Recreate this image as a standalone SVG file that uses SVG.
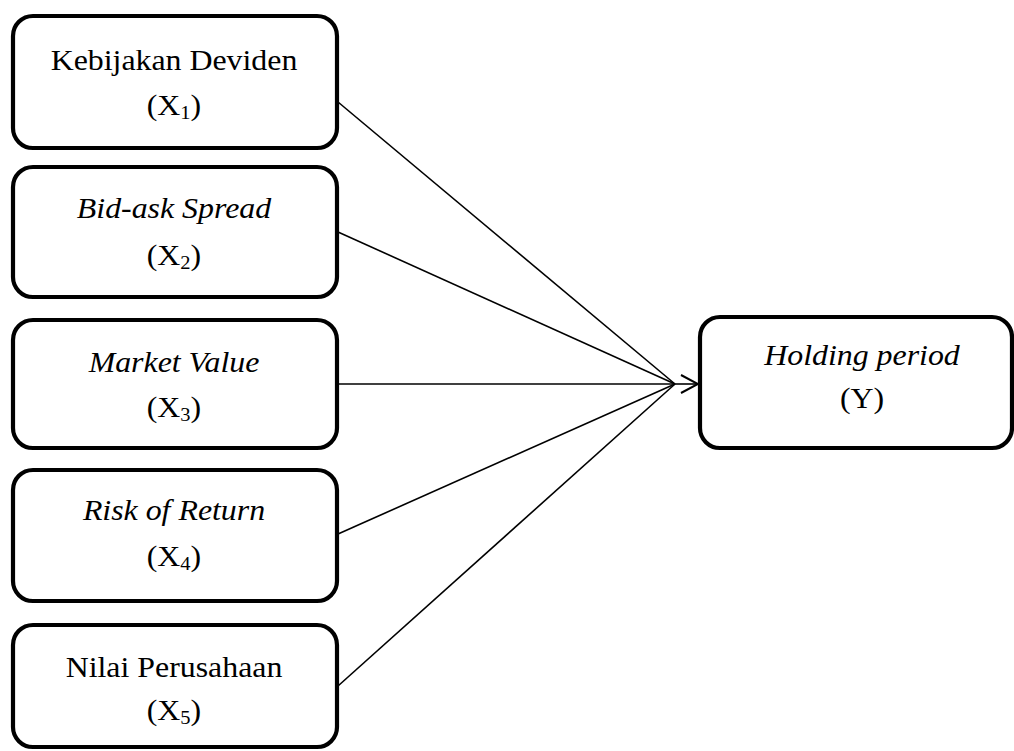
<svg xmlns="http://www.w3.org/2000/svg" width="1014" height="751" viewBox="0 0 1014 751">
<style>
.box{fill:#fff;stroke:#000;stroke-width:4.2}
.t{font-family:"Liberation Serif","Times New Roman",serif;font-size:29.5px;fill:#000;text-anchor:middle}
.i{font-style:italic}
.sub{font-size:19px}
.c{stroke:#000;stroke-width:1.6;fill:none}
</style>
<defs>
<marker id="arr" viewBox="0 0 20 20" refX="18" refY="10" markerWidth="20" markerHeight="20" markerUnits="userSpaceOnUse" orient="auto">
<path d="M1,1 L18,10 L1,19" fill="none" stroke="#000" stroke-width="2"/>
</marker>
</defs>
<g id="connectors">
<line class="c" x1="338" y1="102" x2="675" y2="384"/>
<line class="c" x1="338" y1="232" x2="675" y2="384"/>
<line class="c" x1="338" y1="384" x2="675" y2="384"/>
<line class="c" x1="338" y1="534" x2="675" y2="384"/>
<line class="c" x1="338" y1="686" x2="675" y2="384"/>
<line class="c" x1="675" y1="384" x2="698" y2="384" marker-end="url(#arr)"/>
</g>
<g id="x1">
<rect class="box" x="13" y="16" width="324" height="132" rx="20"/>
<text class="t" transform="translate(174,70) scale(1.08,1)">Kebijakan Deviden</text>
<text class="t" transform="translate(174,115) scale(1.08,1)">(X<tspan class="sub" dy="4">1</tspan><tspan dy="-4">)</tspan></text>
</g>
<g id="x2">
<rect class="box" x="13" y="167" width="324" height="130" rx="20"/>
<text class="t i" transform="translate(174,218) scale(1.08,1)">Bid-ask Spread</text>
<text class="t" transform="translate(174,265) scale(1.08,1)">(X<tspan class="sub" dy="4">2</tspan><tspan dy="-4">)</tspan></text>
</g>
<g id="x3">
<rect class="box" x="13" y="320" width="324" height="128" rx="20"/>
<text class="t i" transform="translate(174,372) scale(1.08,1)">Market Value</text>
<text class="t" transform="translate(174,417) scale(1.08,1)">(X<tspan class="sub" dy="4">3</tspan><tspan dy="-4">)</tspan></text>
</g>
<g id="x4">
<rect class="box" x="13" y="470" width="324" height="131" rx="20"/>
<text class="t i" transform="translate(174,520) scale(1.08,1)">Risk of Return</text>
<text class="t" transform="translate(174,566) scale(1.08,1)">(X<tspan class="sub" dy="4">4</tspan><tspan dy="-4">)</tspan></text>
</g>
<g id="x5">
<rect class="box" x="13" y="625" width="324" height="122" rx="20"/>
<text class="t" transform="translate(174,677) scale(1.08,1)">Nilai Perusahaan</text>
<text class="t" transform="translate(174,720) scale(1.08,1)">(X<tspan class="sub" dy="4">5</tspan><tspan dy="-4">)</tspan></text>
</g>
<g id="y">
<rect class="box" x="700" y="317" width="312" height="131" rx="20"/>
<text class="t i" transform="translate(862,365) scale(1.08,1)">Holding period</text>
<text class="t" transform="translate(862,408) scale(1.08,1)">(Y)</text>
</g>
</svg>
